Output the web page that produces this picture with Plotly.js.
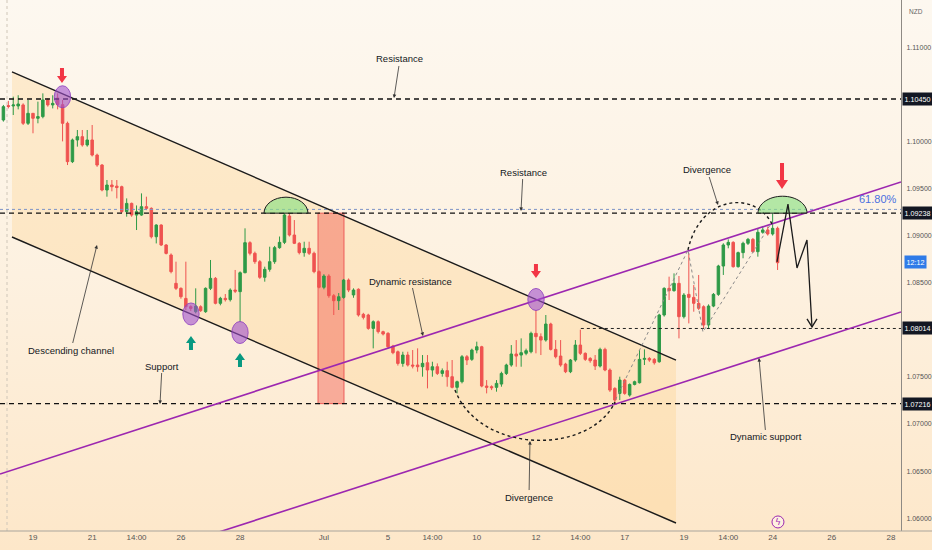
<!DOCTYPE html>
<html><head><meta charset="utf-8">
<script src="https://cdn.plot.ly/plotly-3.0.1.min.js"></script>
<style>
html,body{margin:0;padding:0;}
body{width:932px;height:550px;overflow:hidden;background:linear-gradient(to bottom,#fdf8f0 0%,#fdf1e0 50%,#fde7c9 100%);}
#chart{width:932px;height:550px;}
</style></head><body><div id="chart"></div>
<script>
// ---- bar positions (4H bars, 6 per trading day, 0 = 19 Jun 00:00) ----
const barIndex = [-6,-5,-4,-3,-2,-1,
0,1,2,3,4,5,6,7,8,9,10,11,12,13,14,15,16,17,18,19,20,21,22,23,24,25,26,27,28,29,
30,31,32,33,34,35,36,37,38,39,40,41,42,43,44,45,46,47,48,49,50,51,52,53,54,55,56,57,58,59,
60,61,62,63,64,65,66,67,68,69,70,71,72,73,74,75,76,77,78,79,80,81,82,83,84,85,86,87,88,89,
90,91,92,93,94,95,96,97,98,99,100,101,102,103,104,105,106,107,108,109,110,111,112,113,114,115,116,117,118,119,
120,121,122,123,124,125,126,127,128,129,130,131,132,133,134,135,136,137,138,139,140,141,142,143,144,145,146,147,148,149,150,151];

const openP = [1.10227,1.10380,1.10376,1.10376,1.10387,1.10192,
1.10298,1.10245,1.10263,1.10440,1.10387,1.10460,1.10390,1.10192,1.09785,1.10015,
1.10050,1.09962,1.10015,1.09855,1.09749,1.09484,1.09537,1.09525,1.09519,1.09254,
1.09342,1.09218,1.09218,1.09307,1.09289,1.08988,1.09112,1.08900,1.08794,1.08493,
1.08440,1.08333,1.08245,1.08192,1.08245,1.08192,1.08440,1.08546,1.08281,1.08334,
1.08320,1.08422,1.08405,1.08606,1.08925,1.08812,1.08723,1.08557,1.08642,1.08723,
1.08872,1.08928,1.09208,1.09006,1.08918,1.08819,1.08865,1.08812,1.08617,1.08451,
1.08571,1.08362,1.08309,1.08344,1.08528,1.08370,1.08430,1.08164,1.08157,1.08015,
1.08086,1.07980,1.07962,1.07827,1.07767,1.07643,1.07732,1.07626,1.07626,1.07608,
1.07650,1.07573,1.07608,1.07537,1.07566,1.07502,1.07389,1.07449,1.07714,1.07686,
1.07785,1.07820,1.07403,1.07396,1.07389,1.07424,1.07537,1.07626,1.07743,1.07732,
1.07750,1.07767,1.07962,1.07927,1.07891,1.08061,1.07792,1.07721,1.07636,1.07555,
1.07679,1.07838,1.07750,1.07696,1.07679,1.07615,1.07792,1.07573,1.07378,1.07325,
1.07466,1.07307,1.07420,1.07438,1.07686,1.07696,1.07686,1.07661,1.08157,1.08440,
1.08415,1.08493,1.08139,1.08376,1.08344,1.08281,1.08245,1.08051,1.08252,1.08376,
1.08677,1.08900,1.08928,1.08670,1.08819,1.08918,1.08960,1.08829,1.09035,1.09060,1.09017,1.09077];

const highP = [1.10387,1.10430,1.10475,1.10490,1.10404,1.10440,
1.10300,1.10422,1.10510,1.10457,1.10490,1.10510,1.10440,1.10210,1.10030,1.10121,
1.10121,1.10121,1.10174,1.09870,1.09760,1.09590,1.09590,1.09590,1.09530,1.09395,
1.09350,1.09320,1.09448,1.09413,1.09300,1.09120,1.09120,1.08910,1.08811,1.08723,
1.08450,1.08723,1.08260,1.08440,1.08260,1.08450,1.08741,1.08560,1.08350,1.08380,
1.08440,1.08635,1.08620,1.09077,1.08940,1.08830,1.08740,1.08670,1.08882,1.08890,
1.08990,1.09236,1.09236,1.09165,1.08930,1.08935,1.08935,1.08830,1.08630,1.08590,
1.08590,1.08380,1.08390,1.08540,1.08545,1.08440,1.08440,1.08180,1.08170,1.08100,
1.08100,1.07990,1.07975,1.07840,1.07780,1.07767,1.07767,1.07785,1.07803,1.07732,
1.07732,1.07661,1.07643,1.07590,1.07661,1.07679,1.07460,1.07732,1.07732,1.07800,
1.07874,1.07830,1.07466,1.07410,1.07466,1.07555,1.07640,1.07838,1.07891,1.07909,
1.07800,1.07980,1.08210,1.07962,1.08157,1.08075,1.07891,1.07891,1.07650,1.07690,
1.07891,1.08001,1.07760,1.07710,1.07732,1.07810,1.07810,1.07590,1.07390,1.07502,
1.07480,1.07430,1.07460,1.07785,1.07792,1.07710,1.07700,1.08170,1.08451,1.08564,
1.08599,1.08571,1.08390,1.08812,1.08475,1.08582,1.08260,1.08270,1.08390,1.08690,
1.08918,1.08960,1.08940,1.08830,1.08935,1.08975,1.08975,1.09077,1.09095,1.09095,1.09236,1.09095];

const lowP = [1.10210,1.10350,1.10280,1.10340,1.10174,1.10174,
1.10086,1.10192,1.10245,1.10369,1.10350,1.10340,1.10000,1.09749,1.09770,1.09944,
1.09944,1.09944,1.09840,1.09730,1.09470,1.09413,1.09470,1.09395,1.09240,1.09201,
1.09200,1.09059,1.09210,1.09270,1.08970,1.08917,1.08890,1.08800,1.08599,1.08422,
1.08330,1.08209,1.08200,1.08174,1.08190,1.08180,1.08422,1.08270,1.08260,1.08300,
1.08300,1.08390,1.08086,1.08600,1.08790,1.08700,1.08540,1.08511,1.08617,1.08700,
1.08860,1.08910,1.08990,1.08910,1.08800,1.08776,1.08794,1.08600,1.08440,1.08430,
1.08340,1.08157,1.08210,1.08330,1.08400,1.08340,1.08140,1.08110,1.08000,1.07803,
1.07960,1.07940,1.07800,1.07740,1.07620,1.07608,1.07610,1.07590,1.07555,1.07502,
1.07378,1.07502,1.07520,1.07502,1.07396,1.07378,1.07325,1.07431,1.07626,1.07670,
1.07750,1.07390,1.07325,1.07360,1.07343,1.07396,1.07520,1.07608,1.07608,1.07608,
1.07730,1.07750,1.07750,1.07732,1.07874,1.07780,1.07696,1.07608,1.07540,1.07540,
1.07661,1.07732,1.07670,1.07650,1.07573,1.07600,1.07560,1.07340,1.07219,1.07254,
1.07310,1.07290,1.07410,1.07430,1.07626,1.07660,1.07630,1.07650,1.08140,1.08316,
1.08405,1.07909,1.08120,1.08068,1.08192,1.08210,1.08015,1.08015,1.08240,1.08360,
1.08582,1.08865,1.08660,1.08660,1.08759,1.08900,1.08819,1.08776,1.09020,1.09000,1.09000,1.08635];

const closeP = [1.10369,1.10370,1.10387,1.10397,1.10192,1.10298,
1.10245,1.10263,1.10440,1.10387,1.10404,1.10390,1.10192,1.09785,1.10015,1.10050,
1.09962,1.10015,1.09855,1.09749,1.09484,1.09537,1.09519,1.09510,1.09254,1.09342,
1.09218,1.09254,1.09307,1.09289,1.08988,1.09112,1.08900,1.08811,1.08617,1.08440,
1.08351,1.08245,1.08227,1.08252,1.08203,1.08440,1.08546,1.08281,1.08334,1.08320,
1.08422,1.08410,1.08606,1.08925,1.08812,1.08723,1.08557,1.08642,1.08723,1.08872,
1.08928,1.09219,1.09006,1.08918,1.08819,1.08865,1.08812,1.08617,1.08451,1.08571,
1.08362,1.08309,1.08351,1.08528,1.08422,1.08422,1.08157,1.08132,1.08015,1.08086,
1.07980,1.07955,1.07820,1.07757,1.07643,1.07732,1.07626,1.07615,1.07608,1.07644,
1.07573,1.07608,1.07537,1.07566,1.07502,1.07389,1.07449,1.07714,1.07679,1.07785,
1.07820,1.07403,1.07389,1.07385,1.07431,1.07537,1.07626,1.07743,1.07721,1.07757,
1.07778,1.07962,1.07927,1.07891,1.08061,1.07792,1.07714,1.07626,1.07555,1.07679,
1.07838,1.07750,1.07686,1.07672,1.07615,1.07792,1.07573,1.07360,1.07254,1.07466,
1.07325,1.07420,1.07449,1.07686,1.07696,1.07679,1.07650,1.08157,1.08440,1.08415,
1.08493,1.08139,1.08369,1.08344,1.08281,1.08228,1.08051,1.08252,1.08376,1.08677,
1.08900,1.08928,1.08670,1.08819,1.08918,1.08960,1.08829,1.09035,1.09060,1.09017,1.09077,1.08712];

// ---- axis ticks ----
const xTickVals = [0,12,21,30,42,59,72,81,90,102,111,120,132,141,150,162,174];
const xTickText = ['19','21','14:00','26','28','Jul','5','14:00','10','12','14:00','17','19','14:00','24','26','28'];
const yTickVals = [1.06,1.065,1.07,1.075,1.085,1.09,1.095,1.10,1.11];
const xRange = [-6.69, 176.03];
const yRange = [1.05864, 1.11501];

// ---- horizontal levels ----
const levelPrices = [1.10450, 1.09238, 1.07216];
const pivotPrice = 1.08014;
const fibPrice = 1.09278;

// ---- drawings (bar index, price) ----
const descTop = [-4.26, 1.10737, 130.40, 1.07679];
const descBot = [-4.26, 1.08985, 130.40, 1.05949];
const ascTop = [-6.69, 1.06469, 176.03, 1.09569];
const ascBot = [30.0, 1.05723, 176.03, 1.08189];
const redBox = [57.8, 1.07216, 63.07, 1.09238];
const touchCircles = [[5.98,1.10474],[32.04,1.08168],[41.98,1.07971],[102.01,1.08322]];
const domes = [[51.31,1.09238,4.46,0.00170],[152.0,1.09238,4.97,0.00180]];
const downArrows = [[5.88,1.10620,15],[102.0,1.08550,14],[151.9,1.09495,26]];
const upArrows = [[32.04,1.07934],[41.98,1.07754]];
const textNotes = [
  ['Resistance',73.21,1.10461,6,-39],
  ['Resistance',98.97,1.09261,2,-39],
  ['Divergence',138.92,1.09325,-11,-35],
  ['Dynamic resistance',79.09,1.07934,-12,-55],
  ['Descending channel',12.98,1.08900,-26,105],
  ['Support',25.76,1.07212,2,-38],
  ['Dynamic support',147.23,1.07701,7,79],
  ['Divergence',100.79,1.06819,-1,56]
];
const arcTop = [[132.83,1.08847],[135.26,1.09431],[146.42,1.09484],[149.86,1.09123]];
const arcBottom = [[85.58,1.07361],[90.65,1.06671],[112.96,1.06671],[118.03,1.07233]];
const grayPath = [[117.62,1.07202],[132.83,1.08847],[135.87,1.07977],[149.86,1.09144]];
const forecast = [[150.88,1.08720],[153.11,1.09335],[154.94,1.08656],[156.96,1.08953],[157.98,1.08030]];

const shapes = [];
shapes.push({type:'path', layer:'below', xref:'x', yref:'y',
  path:`M ${descTop[0]},${descTop[1]} L ${descTop[2]},${descTop[3]} L ${descBot[2]},${descBot[3]} L ${descBot[0]},${descBot[1]} Z`,
  fillcolor:'rgba(255,200,110,0.25)', line:{width:0}});
shapes.push({type:'rect', layer:'below', xref:'x', yref:'y', x0:redBox[0], y0:redBox[1], x1:redBox[2], y1:redBox[3],
  fillcolor:'rgba(240,80,70,0.42)', line:{color:'rgba(235,80,80,0.9)', width:1}});
shapes.push({type:'line', xref:'x', yref:'paper', x0:-5.27, x1:-5.27, y0:0, y1:1, line:{color:'#cfc6b8', width:1, dash:'dot'}});
levelPrices.forEach(p=>shapes.push({type:'line', xref:'paper', yref:'y', x0:0, x1:1, y0:p, y1:p, line:{color:'#111', width:1.4, dash:'5px,4px'}}));
shapes.push({type:'line', xref:'x', yref:'y', x0:111.1, x1:xRange[1], y0:pivotPrice, y1:pivotPrice, line:{color:'#222', width:1, dash:'3px,3px'}});
shapes.push({type:'line', xref:'paper', yref:'y', x0:0, x1:1, y0:fibPrice, y1:fibPrice, line:{color:'#7d93c8', width:1, dash:'dot'}});
[descTop, descBot].forEach(l=>shapes.push({type:'line', xref:'x', yref:'y', x0:l[0], y0:l[1], x1:l[2], y1:l[3], line:{color:'#1b1b1b', width:1.4}}));
[ascTop, ascBot].forEach(l=>shapes.push({type:'line', xref:'x', yref:'y', x0:l[0], y0:l[1], x1:l[2], y1:l[3], line:{color:'#9c27b0', width:1.6}}));
shapes.push({type:'path', xref:'x', yref:'y', path:'M '+grayPath.map(p=>p[0]+','+p[1]).join(' L '), line:{color:'#8a8a8a', width:1, dash:'3px,3px'}});
[arcTop, arcBottom].forEach(a=>shapes.push({type:'path', xref:'x', yref:'y',
  path:`M ${a[0][0]},${a[0][1]} C ${a[1][0]},${a[1][1]} ${a[2][0]},${a[2][1]} ${a[3][0]},${a[3][1]}`,
  line:{color:'#1b1b1b', width:1.4, dash:'dot'}}));
const K = 0.5523;
domes.forEach(d=>{const [cx,b,rx,ry]=d; shapes.push({type:'path', xref:'x', yref:'y',
  path:`M ${cx-rx},${b} C ${cx-rx},${b+K*ry} ${cx-K*rx},${b+ry} ${cx},${b+ry} C ${cx+K*rx},${b+ry} ${cx+rx},${b+K*ry} ${cx+rx},${b} Z`,
  fillcolor:'rgba(140,225,130,0.65)', line:{color:'#1b1b1b', width:1}});});
touchCircles.forEach(c=>shapes.push({type:'circle', xref:'x', yref:'y', x0:c[0]-1.66, x1:c[0]+1.66, y0:c[1]-0.00117, y1:c[1]+0.00117,
  fillcolor:'rgba(160,80,205,0.6)', line:{color:'rgba(140,60,190,0.8)', width:1}}));
shapes.push({type:'path', xref:'x', yref:'y', path:'M '+forecast.map(p=>p[0]+','+p[1]).join(' L '), line:{color:'#1b1b1b', width:1.3}});
const fEnd = forecast[forecast.length-1];
shapes.push({type:'path', xref:'x', yref:'y', xsizemode:'pixel', ysizemode:'pixel', xanchor:fEnd[0], yanchor:fEnd[1],
  path:'M -5,8 L 0,0 L 5,8', line:{color:'#1b1b1b', width:1.3}});
downArrows.forEach(a=>{const L=a[2], hw=L>20?6:5, hh=L>20?9:7, sw=2;
  shapes.push({type:'path', xref:'x', yref:'y', xsizemode:'pixel', ysizemode:'pixel', xanchor:a[0], yanchor:a[1],
  path:`M 0,0 L ${-hw},${hh} L ${-sw},${hh} L ${-sw},${L} L ${sw},${L} L ${sw},${hh} L ${hw},${hh} Z`, fillcolor:'#f23645', line:{width:0}});});
upArrows.forEach(a=>shapes.push({type:'path', xref:'x', yref:'y', xsizemode:'pixel', ysizemode:'pixel', xanchor:a[0], yanchor:a[1],
  path:'M 0,0 L -5,-7 L -2,-7 L -2,-14 L 2,-14 L 2,-7 L 5,-7 Z', fillcolor:'#089981', line:{width:0}}));
shapes.push({type:'circle', xref:'x', yref:'y', xsizemode:'pixel', ysizemode:'pixel', xanchor:151.08, yanchor:1.0596,
  x0:-6, x1:6, y0:-6, y1:6, fillcolor:'rgba(255,255,255,0.4)', line:{color:'#9c27b0', width:1}});
shapes.push({type:'line', xref:'paper', yref:'paper', x0:0, x1:1.0345, y0:0, y1:0, line:{color:'#a9a49c', width:1}});

const annotations = [];
const noteFont = {family:'Liberation Sans, Arial, sans-serif', size:9.5, color:'#131722'};
textNotes.forEach(n=>annotations.push({text:n[0], x:n[1], y:n[2], xref:'x', yref:'y', ax:n[3], ay:n[4],
  showarrow:true, arrowhead:2, arrowsize:0.9, arrowwidth:0.8, arrowcolor:'#333', standoff:0, font:noteFont}));
annotations.push({text:'61.80%', x:171.4, y:1.09388, xref:'x', yref:'y', showarrow:false,
  font:{family:'Liberation Sans, Arial, sans-serif', size:11, color:'#4a6fe0'}});
annotations.push({text:'ϟ', x:151.08, y:1.0596, xref:'x', yref:'y', showarrow:false, font:{family:'DejaVu Sans', size:9, color:'#9c27b0'}});
const boxFont = {family:'Liberation Sans, Arial, sans-serif', size:7.2, color:'#ffffff'};
levelPrices.concat([pivotPrice]).forEach(p=>annotations.push({text:p.toFixed(5), x:1, xref:'paper', xanchor:'left', xshift:1,
  y:p, yref:'y', showarrow:false, bgcolor:'#131722', borderpad:1.5, font:boxFont}));
annotations.push({text:'12:12', x:1, xref:'paper', xanchor:'left', xshift:3, y:1.08720, yref:'y', showarrow:false,
  bgcolor:'#2f7be8', borderpad:1.5, font:boxFont});
annotations.push({text:'NZD', x:1, xref:'paper', xanchor:'left', xshift:6, y:1, yref:'paper', yanchor:'top', yshift:-6, showarrow:false,
  font:{family:'Liberation Sans, sans-serif', size:6.5, color:'#666'}});

const data = [{
  type:'candlestick', x:barIndex, open:openP, high:highP, low:lowP, close:closeP,
  increasing:{line:{color:'#2e9a47', width:1}, fillcolor:'#2e9a47'},
  decreasing:{line:{color:'#ef5350', width:1}, fillcolor:'#ef5350'},
  whiskerwidth:0, hoverinfo:'skip', showlegend:false
}];

const xTickFont = {family:'Liberation Sans, Arial, sans-serif', size:8, color:'#555'};
const yTickFont = {family:'Liberation Sans, Arial, sans-serif', size:7, color:'#555'};
const layout = {
  width:932, height:550, margin:{l:0, r:31, t:0, b:19},
  paper_bgcolor:'rgba(0,0,0,0)', plot_bgcolor:'rgba(0,0,0,0)',
  showlegend:false, boxgap:0.28, dragmode:false,
  xaxis:{range:xRange, tickvals:xTickVals, ticktext:xTickText, showgrid:false, zeroline:false,
    rangeslider:{visible:false}, ticks:'', tickfont:xTickFont, showline:false, fixedrange:true},
  yaxis:{range:yRange, side:'right', tickvals:yTickVals, tickformat:'.5f', showgrid:false, zeroline:false,
    ticks:'', tickfont:yTickFont, showline:true, linecolor:'#8e8a84', linewidth:1, ticklabelstandoff:3, fixedrange:true},
  shapes:shapes, annotations:annotations
};
Plotly.newPlot('chart', data, layout, {staticPlot:true, displayModeBar:false});
</script></body></html>
